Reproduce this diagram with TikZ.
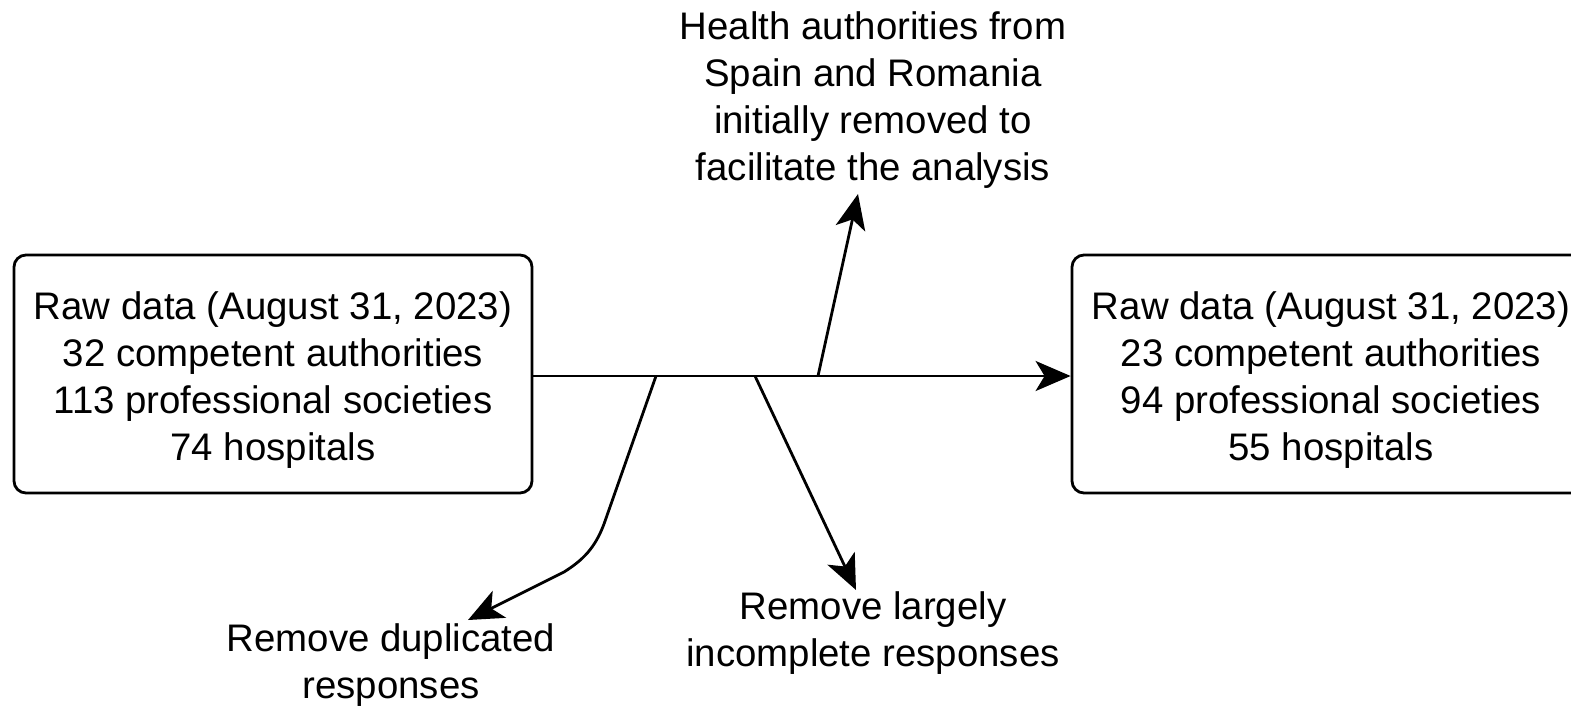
\documentclass[tikz,border=0pt]{standalone}
\usepackage{fontspec}
\setmainfont{Liberation Sans}
\usetikzlibrary{arrows.meta}
\begin{document}
\begin{tikzpicture}[x=1pt,y=-1pt,
  databox/.style={draw, line width=2.8pt, rounded corners=12pt, minimum width=518pt, minimum height=238pt, inner sep=0pt},
  lbl/.style={align=center, inner sep=0pt},
  flow/.style={line width=2.8pt, -{Stealth[length=35pt,width=30pt,inset=9pt]}},
  txt/.style={font=\fontsize{38.4}{47}\selectfont}
]
\useasboundingbox (0,0) rectangle (1571,705);
\clip (0,0) rectangle (1571,705);

% input and output data sets
\node[databox] (L) at (273,374) {};
\node[lbl, txt] (Ltxt) at (273,380) {Raw data (August 31, 2023)\\32 competent authorities\\113 professional societies\\74 hospitals};
\node[databox] (R) at (1331,374) {};
\node[lbl, txt] (Rtxt) at (1331,380) {Raw data (August 31, 2023)\\23 competent authorities\\94 professional societies\\55 hospitals};

% filtering steps
\node[lbl, txt] (T) at (873,100) {Health authorities from\\Spain and Romania\\initially removed to\\facilitate the analysis};
\node[lbl, txt] (D) at (391,665) {Remove duplicated\\responses};
\node[lbl, txt] (I) at (873,633) {Remove largely\\incomplete responses};

% branch points on the main line and arrow ends
\coordinate (j1) at (656,376);
\coordinate (j2) at (755,376);
\coordinate (j3) at (818,376);
\coordinate (tT) at (858,194);
\coordinate (tD) at (468,620);
\coordinate (tI) at (856,590);

\draw[flow] (L.east |- j1) -- (R.west |- j1);
\draw[flow] (j3) -- (tT);
\draw[flow] (j2) -- (tI);
\draw[flow] (j1) -- (604,524) .. controls (595,548) and (583,560) .. (564,572) -- (tD);
\end{tikzpicture}
\end{document}
